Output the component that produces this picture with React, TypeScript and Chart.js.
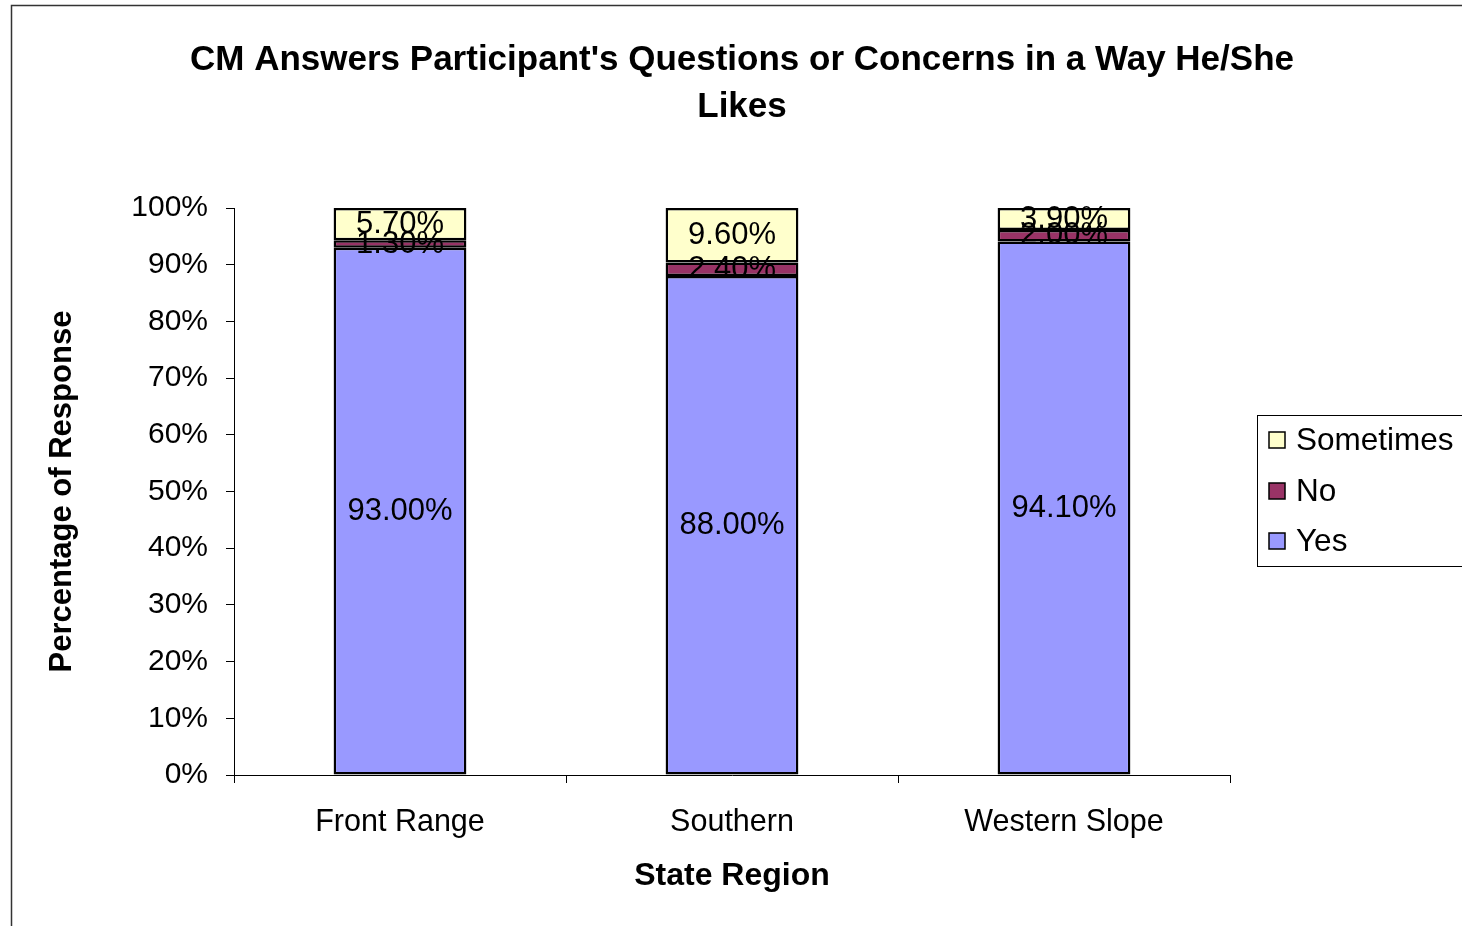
import React, { useEffect, useRef } from "react";
import { Chart, registerables } from "chart.js";

Chart.register(...registerables);

const categories = ["Front Range", "Southern", "Western Slope"];
const yesValues = [93.0, 88.0, 94.1];
const noValues = [1.3, 2.4, 2.0];
const sometimesValues = [5.7, 9.6, 3.9];
const yTickValues = [0, 10, 20, 30, 40, 50, 60, 70, 80, 90, 100];
const titleLines = ["CM Answers Participant's Questions or Concerns in a Way He/She", "Likes"];
const xAxisTitle = "State Region";
const yAxisTitle = "Percentage of Response";

const FONT = "'Liberation Sans', Arial, sans-serif";

const framePlugin = {
  id: "frame",
  beforeDraw(chart: any) {
    const ctx = chart.ctx;
    ctx.save();
    ctx.fillStyle = "#ffffff";
    ctx.fillRect(0, 0, chart.width, chart.height);
    ctx.strokeStyle = "#333333";
    ctx.lineWidth = 1.5;
    ctx.beginPath();
    ctx.moveTo(11.5, chart.height + 2);
    ctx.lineTo(11.5, 5.5);
    ctx.lineTo(chart.width + 2, 5.5);
    ctx.stroke();
    ctx.restore();
  },
};

const titlePlugin = {
  id: "customTitle",
  afterDraw(chart: any) {
    const ctx = chart.ctx;
    ctx.save();
    ctx.fillStyle = "#000000";
    ctx.font = `bold 35px ${FONT}`;
    ctx.textAlign = "center";
    ctx.textBaseline = "middle";
    const ys = [60, 107];
    titleLines.forEach((line, i) => ctx.fillText(line, 742, ys[i]));
    ctx.restore();
  },
};

const valueLabelPlugin = {
  id: "valueLabels",
  afterDatasetsDraw(chart: any) {
    const ctx = chart.ctx;
    ctx.save();
    ctx.fillStyle = "#000000";
    ctx.font = `31px ${FONT}`;
    ctx.textAlign = "center";
    ctx.textBaseline = "middle";
    chart.data.datasets.forEach((ds: any, di: number) => {
      const meta = chart.getDatasetMeta(di);
      meta.data.forEach((bar: any, i: number) => {
        const v = ds.data[i];
        const cy = (bar.y + bar.base) / 2;
        ctx.fillText(v.toFixed(2) + "%", bar.x, cy);
      });
    });
    ctx.restore();
  },
};

const legendPlugin = {
  id: "boxLegend",
  afterDraw(chart: any) {
    const ctx = chart.ctx;
    ctx.save();
    ctx.strokeStyle = "#000000";
    ctx.lineWidth = 1;
    ctx.fillStyle = "#ffffff";
    ctx.fillRect(1257.5, 415.5, 210, 151);
    ctx.strokeRect(1257.5, 415.5, 210, 151);
    const order = [2, 1, 0];
    const rowsY = [440, 491, 541];
    ctx.font = `31.5px ${FONT}`;
    ctx.textBaseline = "middle";
    ctx.textAlign = "left";
    order.forEach((di, r) => {
      const ds = chart.data.datasets[di];
      const y = rowsY[r];
      ctx.fillStyle = ds.backgroundColor;
      ctx.fillRect(1269, y - 8, 16, 16);
      ctx.lineWidth = 1.5;
      ctx.strokeStyle = "#000000";
      ctx.strokeRect(1269, y - 8, 16, 16);
      ctx.fillStyle = "#000000";
      ctx.fillText(ds.label, 1296, y + 1);
    });
    ctx.restore();
  },
};

export default function App() {
  const canvasRef = useRef<HTMLCanvasElement | null>(null);

  useEffect(() => {
    const prevMargin = document.body.style.margin;
    document.body.style.margin = "0";
    const canvas = canvasRef.current;
    if (!canvas) return;
    const barCommon = {
      borderColor: "#000000",
      borderWidth: 2.5,
      borderSkipped: false,
      barPercentage: 1,
      categoryPercentage: 0.4,
    };
    const chart = new Chart(canvas, {
      type: "bar",
      data: {
        labels: categories,
        datasets: [
          { label: "Yes", data: yesValues, backgroundColor: "#9999FF", ...barCommon },
          { label: "No", data: noValues, backgroundColor: "#993366", ...barCommon },
          { label: "Sometimes", data: sometimesValues, backgroundColor: "#FFFFCC", ...barCommon },
        ],
      },
      options: {
        animation: false,
        responsive: true,
        maintainAspectRatio: false,
        layout: { padding: { left: 0, top: 208, right: 232, bottom: 0 } },
        plugins: {
          legend: { display: false },
          title: { display: false },
          tooltip: { enabled: false },
        },
        scales: {
          x: {
            stacked: true,
            afterFit: (scale: any) => {
              scale.height = 151;
            },
            grid: {
              drawOnChartArea: false,
              drawTicks: true,
              tickLength: 8,
              color: "#000000",
              offset: true,
            },
            border: { display: true, color: "#000000", width: 1 },
            ticks: {
              color: "#000000",
              font: { family: FONT, size: 30.5 },
              padding: 21,
              maxRotation: 0,
            },
            title: {
              display: true,
              text: xAxisTitle,
              color: "#000000",
              font: { family: FONT, size: 32, weight: "bold" },
              padding: { top: 0, bottom: 31 },
            },
          },
          y: {
            stacked: true,
            min: 0,
            max: 100,
            afterFit: (scale: any) => {
              scale.width = 234;
            },
            afterBuildTicks: (scale: any) => {
              scale.ticks = yTickValues.map((v) => ({ value: v }));
            },
            grid: {
              drawOnChartArea: false,
              drawTicks: true,
              tickLength: 8,
              color: "#000000",
            },
            border: { display: true, color: "#000000", width: 1 },
            ticks: {
              color: "#000000",
              font: { family: FONT, size: 30 },
              padding: 18,
              callback: (v: any) => v + "%",
            },
            title: {
              display: true,
              text: yAxisTitle,
              color: "#000000",
              font: { family: FONT, size: 31, weight: "bold" },
              padding: { top: 44, bottom: 0 },
            },
          },
        },
      },
      plugins: [framePlugin, valueLabelPlugin, titlePlugin, legendPlugin],
    });
    return () => {
      chart.destroy();
      document.body.style.margin = prevMargin;
    };
  }, []);

  return (
    <div style={{ position: "fixed", left: 0, top: 0, width: 1462, height: 926 }}>
      <canvas ref={canvasRef} />
    </div>
  );
}
